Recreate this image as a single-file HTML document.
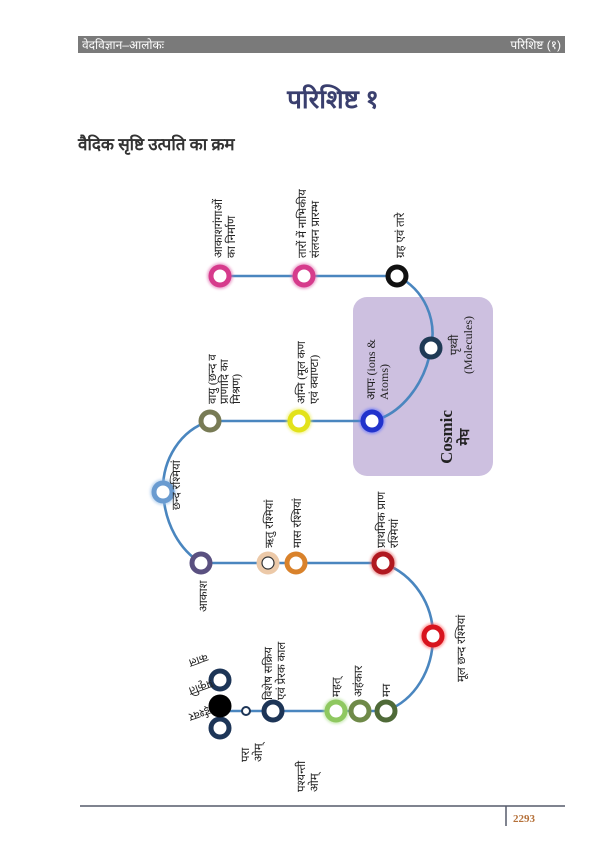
<!DOCTYPE html>
<html><head><meta charset="utf-8"><style>
html,body{margin:0;padding:0;background:#fff}
svg{display:block}
text{font-family:"Liberation Serif","Noto Serif CJK SC","Noto Sans CJK SC",serif;fill:#222}
</style></head><body>
<svg width="600" height="848" viewBox="0 0 600 848" xmlns="http://www.w3.org/2000/svg">
<defs>
<filter id="g" x="-50%" y="-50%" width="200%" height="200%"><feGaussianBlur stdDeviation="1.3"/></filter>
</defs>
<rect x="78" y="36" width="487" height="17" fill="#7a7a7a"/>
<text x="82" y="49" font-size="12" style="fill:#fff;font-family:'Liberation Sans',sans-serif">वेदविज्ञान–आलोकः</text>
<text x="561" y="49" font-size="12" text-anchor="end" style="fill:#fff;font-family:'Liberation Sans',sans-serif">परिशिष्ट (१)</text>
<text x="333" y="108" font-size="26" text-anchor="middle" style="fill:#3a3f6e;font-weight:600">परिशिष्ट १</text>
<text x="78" y="150" font-size="17" style="fill:#333;font-weight:600">वैदिक सृष्टि उत्पति का क्रम</text>

<rect x="353" y="297" width="140" height="179" rx="14" fill="#cdc0e0"/>

<g fill="none" stroke="#4a86bf" stroke-width="2.6">
<path d="M220 276 H397"/>
<path d="M397 276 C425 290 437 320 431 348 C425 385 400 415 372 421"/>
<path d="M372 421 H210"/>
<path d="M210 421 C180 430 162 460 163 492 C165 525 180 550 201 563"/>
<path d="M201 563 H383"/>
<path d="M383 563 C415 575 433 605 433 636 C433 670 415 700 386 711"/>
<path d="M386 711 H220"/>
</g>

<g stroke-width="5" fill="#fff">
<g filter="url(#g)" opacity="0.6" fill="none" stroke-width="8">
<circle cx="220" cy="276" r="9" stroke="#e070b0"/><circle cx="304" cy="276" r="9" stroke="#e070b0"/>
<circle cx="372" cy="421" r="9" stroke="#6070ff"/><circle cx="299" cy="421" r="9" stroke="#eeee60"/>
<circle cx="383" cy="563" r="9" stroke="#e06060"/><circle cx="433" cy="636" r="9" stroke="#ff6060"/>
<circle cx="163" cy="492" r="9" stroke="#9ac0e8"/><circle cx="336" cy="711" r="9" stroke="#b0e090"/>
</g>
<circle cx="220" cy="276" r="9" stroke="#d63b8c"/>
<circle cx="304" cy="276" r="9" stroke="#d63b8c"/>
<circle cx="397" cy="276" r="9" stroke="#111"/>
<circle cx="431" cy="348" r="9" stroke="#1f3a55"/>
<circle cx="372" cy="421" r="9" stroke="#2233cc"/>
<circle cx="299" cy="421" r="9" stroke="#e2e21a"/>
<circle cx="210" cy="421" r="9" stroke="#787b55"/>
<circle cx="163" cy="492" r="9" stroke="#6a9bd0"/>
<circle cx="201" cy="563" r="9" stroke="#5a5080"/>
<circle cx="268" cy="563" r="9" stroke="#ecc9a8"/>
<circle cx="268" cy="563" r="6" stroke="#333" stroke-width="1.2"/>
<circle cx="296" cy="563" r="9" stroke="#d9822b"/>
<circle cx="383" cy="563" r="9" stroke="#b01820"/>
<circle cx="433" cy="636" r="9" stroke="#d8141e"/>
<circle cx="386" cy="711" r="9" stroke="#4f6a38"/>
<circle cx="360" cy="711" r="9" stroke="#6f8a48"/>
<circle cx="336" cy="711" r="9" stroke="#8fc860"/>
<circle cx="273" cy="711" r="9" stroke="#1d3557"/>
<circle cx="246" cy="711" r="4" stroke="#1d3557" stroke-width="2"/>
<circle cx="220" cy="680" r="9" stroke="#1d3557"/>
<circle cx="220" cy="728" r="9" stroke="#1d3557"/>
<circle cx="220" cy="706" r="11" fill="#000" stroke="#000" stroke-width="1"/>
</g>

<g font-size="11.5">
<text transform="translate(222,258) rotate(-90)">आकाशगंगाओं<tspan x="0" dy="13">का निर्माण</tspan></text>
<text transform="translate(306,258) rotate(-90)">तारों में नाभिकीय<tspan x="0" dy="13">संलयन प्रारम्भ</tspan></text>
<text transform="translate(404,258) rotate(-90)">ग्रह एवं तारे</text>
<text transform="translate(458,345) rotate(-90)" text-anchor="middle">पृथ्वी<tspan x="0" dy="14" font-size="12">(Molecules)</tspan></text>
<text transform="translate(375,400) rotate(-90)" font-size="12">आपः (ions &amp;<tspan x="0" dy="13">Atoms)</tspan></text>
<text transform="translate(452,437) rotate(-90)" text-anchor="middle" font-size="17" font-weight="bold">Cosmic<tspan x="0" dy="17" font-size="14">मेघ</tspan></text>
<text transform="translate(216,404) rotate(-90)">वायु (छन्द व<tspan x="0" dy="12">प्राणादि का</tspan><tspan x="0" dy="12">मिश्रण)</tspan></text>
<text transform="translate(305,404) rotate(-90)">अग्नि (मूल कण<tspan x="0" dy="13">एवं क्वाण्टा)</tspan></text>
<text transform="translate(180,510) rotate(-90)">छन्द रश्मियां</text>
<text transform="translate(207,612) rotate(-90)">आकाश</text>
<text transform="translate(273,548) rotate(-90)">ऋतु रश्मियां</text>
<text transform="translate(301,548) rotate(-90)">मास रश्मियां</text>
<text transform="translate(385,548) rotate(-90)">प्राथमिक प्राण<tspan x="0" dy="13">रश्मियां</tspan></text>
<text transform="translate(465,682) rotate(-90)">मूल छन्द रश्मियां</text>
<text transform="translate(272,700) rotate(-90)">विशेष सक्रिय<tspan x="0" dy="13">एवं प्रेरक काल</tspan></text>
<text transform="translate(340,697) rotate(-90)">महत्</text>
<text transform="translate(362,697) rotate(-90)">अहंकार</text>
<text transform="translate(390,697) rotate(-90)">मन</text>
<text transform="translate(249,762) rotate(-90)">परा<tspan x="0" dy="13">ओम्</tspan></text>
<text transform="translate(305,792) rotate(-90)">पश्यन्ती<tspan x="0" dy="13">ओम्</tspan></text>
<text transform="translate(188,660) rotate(160)" text-anchor="end">काल</text>
<text transform="translate(188,688) rotate(160)" text-anchor="end">प्रकृति</text>
<text transform="translate(188,714) rotate(160)" text-anchor="end">ईश्वर</text>
</g>

<line x1="80" y1="806" x2="565" y2="806" stroke="#555a6a" stroke-width="1.5"/>
<line x1="506" y1="806" x2="506" y2="826" stroke="#555a6a" stroke-width="1.5"/>
<text x="513" y="822" font-size="11" font-weight="bold" style="fill:#b5713a">2293</text>
</svg>
</body></html>
